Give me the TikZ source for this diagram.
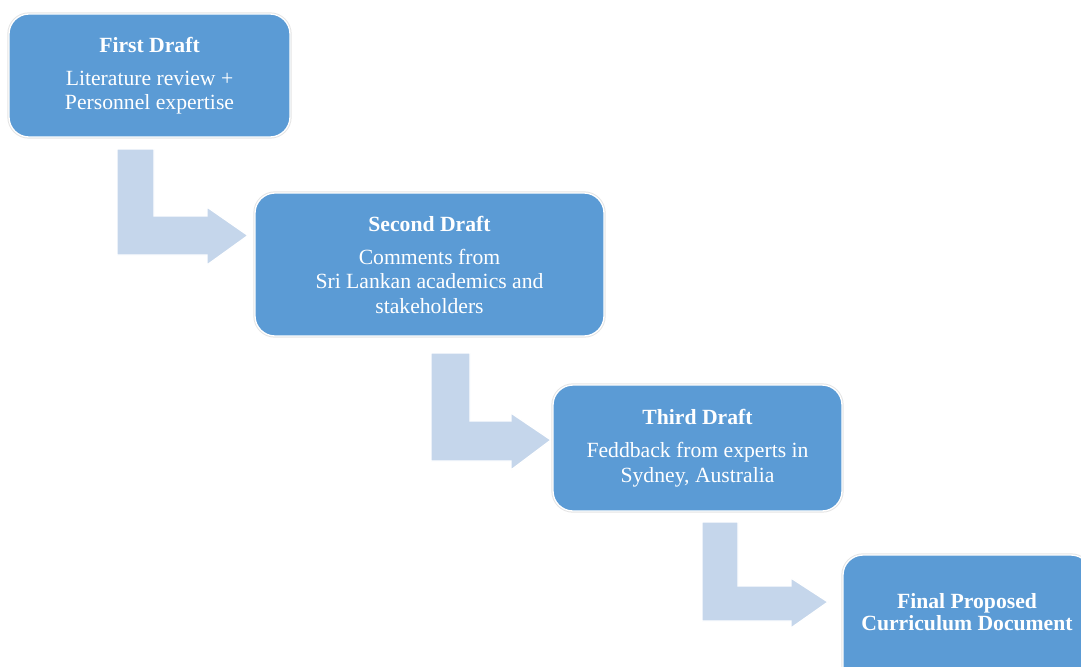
\documentclass[tikz,border=0pt]{standalone}
\usepackage{fontspec}
\setmainfont{Liberation Serif}
\usetikzlibrary{positioning}

\definecolor{draftblue}{RGB}{91,155,213}
\definecolor{arrowblue}{RGB}{197,214,235}

\tikzset{
    draftbox/.style={draw=white, line width=0.8pt, fill=draftblue,
        rounded corners=12pt, text=white, align=center, inner sep=0pt,
        font=\fontsize{13}{14.7}\selectfont,
        preaction={draw=black!10, line width=2pt}},
    flowarrow/.style={draw=white, line width=0.8pt, fill=arrowblue},
}
\newcommand{\drafttitle}[1]{\textbf{#1}\\[5.1pt]}

\begin{document}
\begin{tikzpicture}[x=0.6pt, y=-0.6pt]

    % area della pagina
    \useasboundingbox (0,0) rectangle (1081,666);

    % ==========================================
    % FRECCE: da una bozza alla successiva
    % ==========================================
    \draw[flowarrow] (117,149) -- (154,149) -- (154,216) -- (207,216) -- (207,207)
        -- (248,235.5) -- (207,265) -- (207,255) -- (117,255) -- cycle;
    \draw[flowarrow] (431,353) -- (470,353) -- (470,421) -- (511,421) -- (511,413)
        -- (551,440) -- (511,470) -- (511,461) -- (431,461) -- cycle;
    \draw[flowarrow] (702,522) -- (738,522) -- (738,586) -- (791,586) -- (791,578)
        -- (828,602) -- (791,628) -- (791,621) -- (702,621) -- cycle;

    % ==========================================
    % BOZZE
    % ==========================================
    \node[draftbox, minimum width=168.6pt, minimum height=73.8pt] (first) at (149.5,75.5)
        {\drafttitle{First Draft}Literature review +\\Personnel expertise};

    \node[draftbox, minimum width=209.4pt, minimum height=85.8pt] (second) at (429.5,264.5)
        {\drafttitle{Second Draft}Comments from\\Sri Lankan academics and\\stakeholders};

    \node[draftbox, minimum width=173.4pt, minimum height=75.6pt] (third) at (697.5,448)
        {\drafttitle{Third Draft}Feddback from experts in\\Sydney, Australia};

    % documento finale: esce dal bordo in basso, il testo resta in alto
    \node[draftbox, minimum width=148.8pt, minimum height=84pt, text depth=16.2pt,
        font=\fontsize{13}{13.2}\selectfont\bfseries] (final) at (967,625)
        {Final Proposed\\Curriculum Document};

\end{tikzpicture}
\end{document}
